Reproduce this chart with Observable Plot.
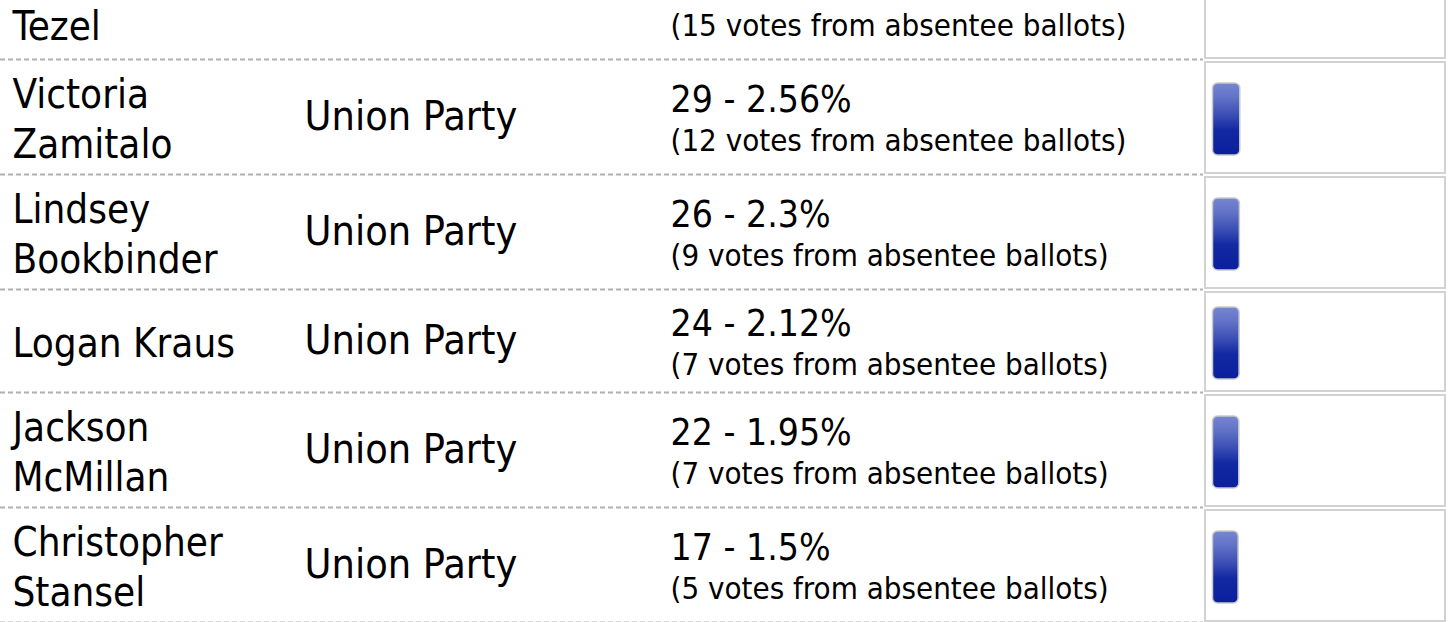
<!DOCTYPE html>
<html><head><meta charset="utf-8">
<script src="https://cdn.jsdelivr.net/npm/d3@7"></script>
<script src="https://cdn.jsdelivr.net/npm/@observablehq/plot@0.6"></script>
<style>
html,body{margin:0;padding:0;background:#fff;overflow:hidden}
#chart svg{display:block}
</style></head><body><div id="chart"></div>
<script>
// ---- data ----
const names = ["Victoria\nZamitalo", "Lindsey\nBookbinder", "Logan Kraus", "Jackson\nMcMillan", "Christopher\nStansel"];
const parties = ["Union Party", "Union Party", "Union Party", "Union Party", "Union Party"];
const votes = [29, 26, 24, 22, 17];
const percents = [2.56, 2.3, 2.12, 1.95, 1.5];
const absentee = [12, 9, 7, 7, 5];
// tail of the row above, cut off by the top of the picture
const partialNameTail = "Tezel";
const partialAbsentee = 15;

// ---- layout ----
const W = 1450, H = 622;
const FONT = "'DejaVu Sans Condensed', 'DejaVu Sans', sans-serif";
const nameSize = 40, partySize = 41, mainSize = 37, subSize = 31;
const nameLH = 50, pad = 7.5, blockH = 88, mainDy = -17, subDy = 24;
const firstTop = 59;

function rowHeight(name) {
  const lines = name.split("\n").length;
  return Math.max(lines * nameLH, blockH) + 2 * pad;
}
let cursor = firstTop;
const rows = names.map((name, i) => {
  const h = rowHeight(name);
  const r = {name, party: parties[i], votes: votes[i], pct: percents[i], abs: absentee[i], top: cursor, bottom: cursor + h, center: cursor + h / 2};
  r.mainY = r.center + mainDy;
  r.subY = r.center + subDy;
  cursor += h;
  return r;
});
// the partial row above (two-line name, same height as others)
const pH = rowHeight("x\n" + partialNameTail);
const partial = {bottom: firstTop, top: firstTop - pH, center: firstTop - pH / 2};
partial.nameY = partial.center + nameLH / 2;
partial.subY = partial.center + subDy;

const separators = [partial.bottom, ...rows.map(r => r.bottom)];
const boxes = [partial, ...rows];

const defs = () => {
  const d = d3.create("svg:defs");
  const g = d.append("linearGradient").attr("id", "barGrad").attr("x1", 0).attr("y1", 0).attr("x2", 0).attr("y2", 1);
  [[0, "#7686d2"], [0.2, "#6272c6"], [0.45, "#3a4db4"], [0.65, "#1229a2"], [1, "#0a1f9d"]]
    .forEach(([o, c]) => g.append("stop").attr("offset", o).attr("stop-color", c));
  return d.node();
};

const chart = Plot.plot({
  width: W, height: H,
  marginTop: 0, marginRight: 0, marginBottom: 0, marginLeft: 0,
  x: {domain: [0, 100], range: [1235.7, 1395.7], axis: null},
  y: {domain: [0, H], range: [0, H], axis: null},
  style: {fontFamily: FONT, background: "#fff", color: "#000", overflow: "hidden"},
  marks: [
    defs,
    Plot.ruleY(separators, {y: d => d, stroke: "#b0b0b0", strokeWidth: 2, strokeDasharray: "5,3", insetRight: W - 1203}),
    Plot.rect(boxes, {y1: d => d.top + 3, y2: d => d.bottom - 1, fill: "#fff", stroke: "#d2d2d2", strokeWidth: 2, insetLeft: 1205, insetRight: 5}),
    Plot.rect(rows, {x1: 0, x2: d => d.pct, y1: d => d.center + 2.5 - 36, y2: d => d.center + 2.5 + 36,
      insetLeft: -23.2, rx: 5, fill: "url(#barGrad)", stroke: "#c9c9c9", strokeWidth: 1.5}),
    Plot.text(rows, {y: "center", text: "name", frameAnchor: "left", dx: 12, textAnchor: "start",
      fontSize: nameSize, lineHeight: nameLH / nameSize, fill: "#000"}),
    Plot.text(rows, {y: "center", text: "party", frameAnchor: "left", dx: 304, textAnchor: "start",
      fontSize: partySize, fill: "#000"}),
    Plot.text(rows, {y: "mainY", text: d => `${d.votes} - ${d.pct}%`, frameAnchor: "left", dx: 670, textAnchor: "start",
      fontSize: mainSize, fill: "#000"}),
    Plot.text(rows, {y: "subY", text: d => `(${d.abs} votes from absentee ballots)`, frameAnchor: "left", dx: 670, textAnchor: "start",
      fontSize: subSize, fill: "#000"}),
    Plot.text([partial], {y: "nameY", text: () => partialNameTail, frameAnchor: "left", dx: 12, textAnchor: "start",
      fontSize: nameSize, fill: "#000"}),
    Plot.text([partial], {y: "subY", text: () => `(${partialAbsentee} votes from absentee ballots)`, frameAnchor: "left", dx: 670, textAnchor: "start",
      fontSize: subSize, fill: "#000"})
  ]
});
document.getElementById("chart").append(chart);
</script></body></html>
